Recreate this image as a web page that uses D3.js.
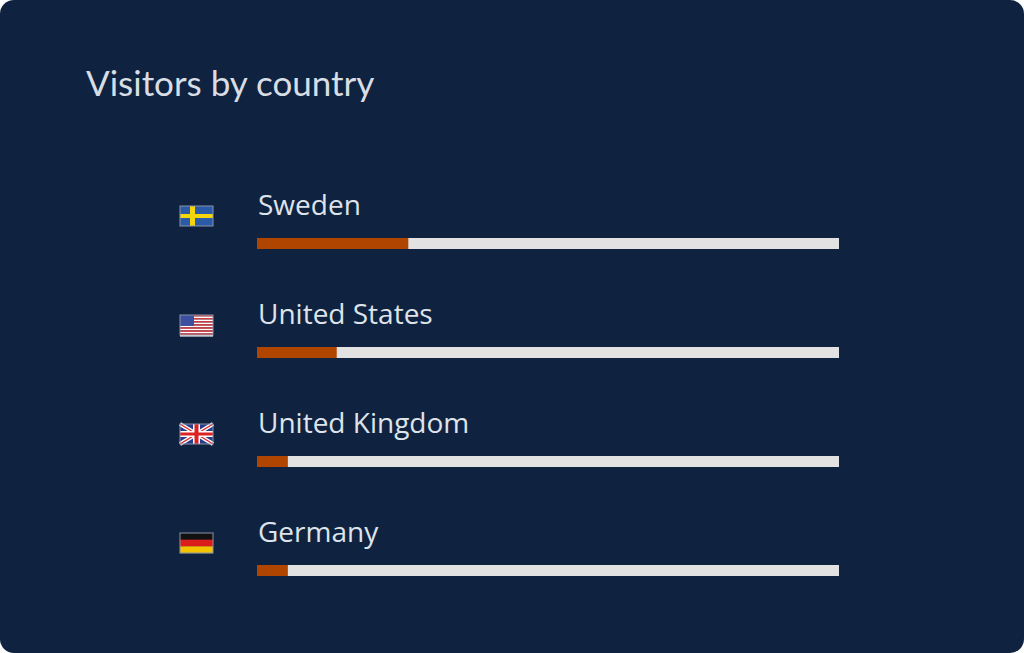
<!DOCTYPE html><html><head><meta charset="utf-8">
<script src="https://cdn.jsdelivr.net/npm/d3@7"></script>
<style>body{margin:0;background:#fff}</style></head><body>
<svg id="c" width="1024" height="653"></svg>
<script>
const countries=["Sweden","United States","United Kingdom","Germany"];
const codes=["se","us","gb","de"];
const values=[26,13.7,5.3,5.3];
const svg=d3.select("#c");
svg.append("rect").attr("x",0).attr("y",0).attr("width",1024).attr("height",653).attr("rx",14).attr("fill","#0f2341");
svg.append("text").attr("x",86).attr("y",96).attr("fill","#d9dde4").attr("font-family","Lato, 'Open Sans', sans-serif").attr("font-size",35).text("Visitors by country");
const x=d3.scaleLinear().domain([0,100]).range([257,839]);
const y=d3.scaleBand().domain(countries).range([170,606]);
function flag(g,code){
  const w=33,h=20;
  if(code==="se"){g.append("rect").attr("width",w).attr("height",h).attr("fill","#2a5aa8");
    g.append("rect").attr("x",10).attr("width",5).attr("height",h).attr("fill","#f5d60a");
    g.append("rect").attr("y",8).attr("width",w).attr("height",4).attr("fill","#f5d60a");}
  if(code==="us"){for(let i=0;i<7;i++){g.append("rect").attr("y",i*h/6.5).attr("width",w).attr("height",h/13).attr("fill","#e03a3e");
      g.append("rect").attr("y",i*h/6.5+h/13).attr("width",w).attr("height",h/13).attr("fill","#fff");}
    g.append("rect").attr("width",14).attr("height",11).attr("fill","#3c4fa0");}
  if(code==="gb"){g.append("rect").attr("width",w).attr("height",h).attr("fill","#283d8c");
    g.append("path").attr("d",`M0,0L${w},${h}M${w},0L0,${h}`).attr("stroke","#fff").attr("stroke-width",4);
    g.append("path").attr("d",`M0,0L${w},${h}M${w},0L0,${h}`).attr("stroke","#d22").attr("stroke-width",1.3);
    g.append("rect").attr("x",13).attr("width",7).attr("height",h).attr("fill","#fff");
    g.append("rect").attr("y",7).attr("width",w).attr("height",6).attr("fill","#fff");
    g.append("rect").attr("x",14.5).attr("width",4).attr("height",h).attr("fill","#d22");
    g.append("rect").attr("y",8.5).attr("width",w).attr("height",3).attr("fill","#d22");}
  if(code==="de"){["#111","#dd1c1c","#f5c400"].forEach((c,i)=>g.append("rect").attr("y",i*h/3).attr("width",w).attr("height",h/3+0.2).attr("fill",c));}
  g.append("rect").attr("width",w).attr("height",h).attr("fill","none").attr("stroke","#8a94a6").attr("stroke-width",1);
}
countries.forEach((c,i)=>{
  const y0=y(c);
  const g=svg.append("g");
  flag(g.append("g").attr("transform",`translate(180,${y0+36})`),codes[i]);
  g.append("text").attr("x",258).attr("y",y0+45).attr("fill","#dfe3ea").attr("font-family","'Open Sans', sans-serif").attr("font-size",28).text(c);
  g.append("rect").attr("x",x(0)).attr("y",y0+68).attr("width",x(100)-x(0)).attr("height",11).attr("fill","#e2e2e2");
  g.append("rect").attr("x",x(0)).attr("y",y0+68).attr("width",x(values[i])-x(0)).attr("height",11).attr("fill","#b04500");
});
</script></body></html>
